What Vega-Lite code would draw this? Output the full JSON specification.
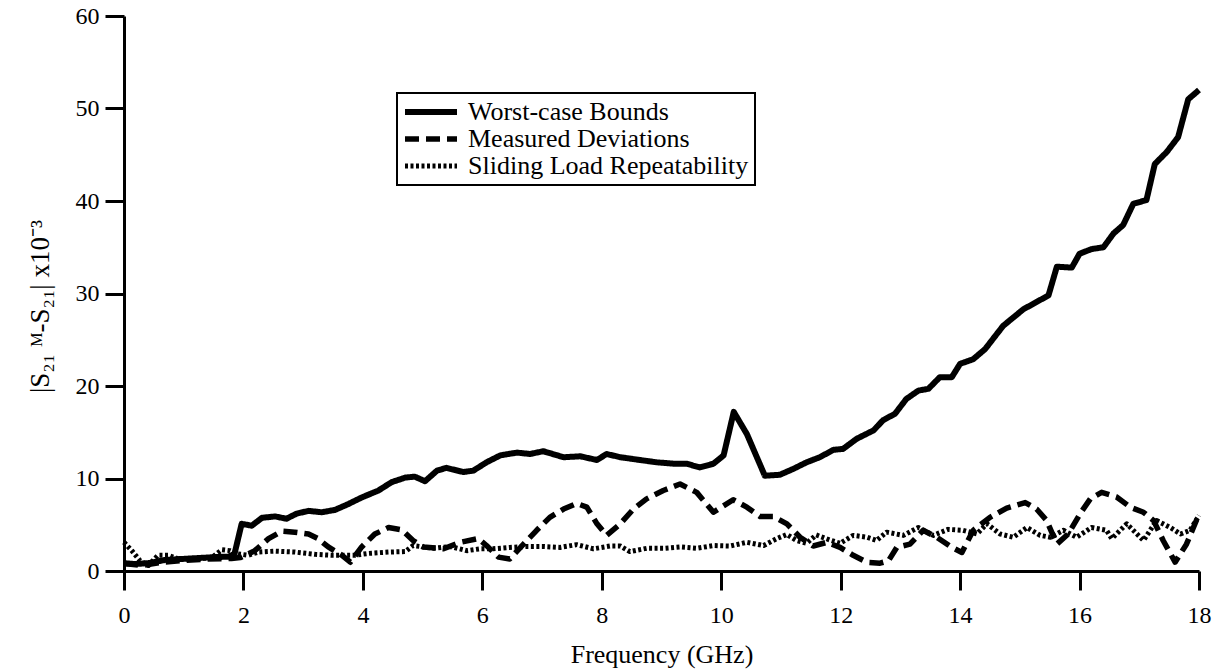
{
  "$schema": "https://vega.github.io/schema/vega-lite/v6.json",
  "autosize": {"type": "none"},
  "width": 1075,
  "height": 555,
  "padding": {"left": 124, "top": 16, "right": 21, "bottom": 99},
  "background": "white",
  "config": {"font": "Liberation Serif", "view": {"stroke": null}, "legend": {"strokeWidth": 2}},
  "data": {"values": [
    {"freq":0,"value":0.85,"series":"Worst-case Bounds"},{"freq":0.18,"value":0.75,"series":"Worst-case Bounds"},{"freq":0.41,"value":0.85,"series":"Worst-case Bounds"},{"freq":0.69,"value":1.2,"series":"Worst-case Bounds"},{"freq":0.97,"value":1.3,"series":"Worst-case Bounds"},{"freq":1.24,"value":1.4,"series":"Worst-case Bounds"},{"freq":1.52,"value":1.5,"series":"Worst-case Bounds"},{"freq":1.75,"value":1.55,"series":"Worst-case Bounds"},{"freq":1.85,"value":1.85,"series":"Worst-case Bounds"},{"freq":1.97,"value":5.1,"series":"Worst-case Bounds"},{"freq":2.14,"value":4.9,"series":"Worst-case Bounds"},{"freq":2.31,"value":5.75,"series":"Worst-case Bounds"},{"freq":2.53,"value":5.9,"series":"Worst-case Bounds"},{"freq":2.72,"value":5.65,"series":"Worst-case Bounds"},{"freq":2.89,"value":6.2,"series":"Worst-case Bounds"},{"freq":3.09,"value":6.5,"series":"Worst-case Bounds"},{"freq":3.31,"value":6.35,"series":"Worst-case Bounds"},{"freq":3.53,"value":6.6,"series":"Worst-case Bounds"},{"freq":3.76,"value":7.25,"series":"Worst-case Bounds"},{"freq":3.98,"value":7.95,"series":"Worst-case Bounds"},{"freq":4.26,"value":8.7,"series":"Worst-case Bounds"},{"freq":4.48,"value":9.6,"series":"Worst-case Bounds"},{"freq":4.71,"value":10.1,"series":"Worst-case Bounds"},{"freq":4.87,"value":10.2,"series":"Worst-case Bounds"},{"freq":5.04,"value":9.7,"series":"Worst-case Bounds"},{"freq":5.24,"value":10.85,"series":"Worst-case Bounds"},{"freq":5.4,"value":11.15,"series":"Worst-case Bounds"},{"freq":5.68,"value":10.7,"series":"Worst-case Bounds"},{"freq":5.85,"value":10.85,"series":"Worst-case Bounds"},{"freq":6.07,"value":11.75,"series":"Worst-case Bounds"},{"freq":6.3,"value":12.5,"series":"Worst-case Bounds"},{"freq":6.58,"value":12.8,"series":"Worst-case Bounds"},{"freq":6.8,"value":12.65,"series":"Worst-case Bounds"},{"freq":7.02,"value":12.95,"series":"Worst-case Bounds"},{"freq":7.36,"value":12.3,"series":"Worst-case Bounds"},{"freq":7.64,"value":12.4,"series":"Worst-case Bounds"},{"freq":7.92,"value":12.0,"series":"Worst-case Bounds"},{"freq":8.08,"value":12.65,"series":"Worst-case Bounds"},{"freq":8.31,"value":12.3,"series":"Worst-case Bounds"},{"freq":8.64,"value":12.0,"series":"Worst-case Bounds"},{"freq":8.92,"value":11.75,"series":"Worst-case Bounds"},{"freq":9.2,"value":11.6,"series":"Worst-case Bounds"},{"freq":9.42,"value":11.6,"series":"Worst-case Bounds"},{"freq":9.64,"value":11.2,"series":"Worst-case Bounds"},{"freq":9.87,"value":11.6,"series":"Worst-case Bounds"},{"freq":10.04,"value":12.5,"series":"Worst-case Bounds"},{"freq":10.21,"value":17.2,"series":"Worst-case Bounds"},{"freq":10.43,"value":14.8,"series":"Worst-case Bounds"},{"freq":10.73,"value":10.3,"series":"Worst-case Bounds"},{"freq":10.98,"value":10.4,"series":"Worst-case Bounds"},{"freq":11.21,"value":11.05,"series":"Worst-case Bounds"},{"freq":11.43,"value":11.75,"series":"Worst-case Bounds"},{"freq":11.65,"value":12.3,"series":"Worst-case Bounds"},{"freq":11.88,"value":13.1,"series":"Worst-case Bounds"},{"freq":12.04,"value":13.2,"series":"Worst-case Bounds"},{"freq":12.27,"value":14.3,"series":"Worst-case Bounds"},{"freq":12.55,"value":15.2,"series":"Worst-case Bounds"},{"freq":12.71,"value":16.3,"series":"Worst-case Bounds"},{"freq":12.91,"value":17.0,"series":"Worst-case Bounds"},{"freq":13.1,"value":18.6,"series":"Worst-case Bounds"},{"freq":13.3,"value":19.5,"series":"Worst-case Bounds"},{"freq":13.47,"value":19.7,"series":"Worst-case Bounds"},{"freq":13.66,"value":20.95,"series":"Worst-case Bounds"},{"freq":13.86,"value":20.95,"series":"Worst-case Bounds"},{"freq":14.0,"value":22.4,"series":"Worst-case Bounds"},{"freq":14.22,"value":22.9,"series":"Worst-case Bounds"},{"freq":14.42,"value":24.0,"series":"Worst-case Bounds"},{"freq":14.72,"value":26.5,"series":"Worst-case Bounds"},{"freq":15.06,"value":28.3,"series":"Worst-case Bounds"},{"freq":15.23,"value":28.9,"series":"Worst-case Bounds"},{"freq":15.48,"value":29.8,"series":"Worst-case Bounds"},{"freq":15.62,"value":32.9,"series":"Worst-case Bounds"},{"freq":15.87,"value":32.8,"series":"Worst-case Bounds"},{"freq":16.0,"value":34.3,"series":"Worst-case Bounds"},{"freq":16.2,"value":34.8,"series":"Worst-case Bounds"},{"freq":16.4,"value":35.0,"series":"Worst-case Bounds"},{"freq":16.57,"value":36.5,"series":"Worst-case Bounds"},{"freq":16.73,"value":37.4,"series":"Worst-case Bounds"},{"freq":16.9,"value":39.7,"series":"Worst-case Bounds"},{"freq":17.12,"value":40.1,"series":"Worst-case Bounds"},{"freq":17.26,"value":44.0,"series":"Worst-case Bounds"},{"freq":17.46,"value":45.3,"series":"Worst-case Bounds"},{"freq":17.65,"value":46.9,"series":"Worst-case Bounds"},{"freq":17.82,"value":51.0,"series":"Worst-case Bounds"},{"freq":18.0,"value":52.0,"series":"Worst-case Bounds"},

    {"freq":0,"value":0.8,"series":"Measured Deviations"},{"freq":0.3,"value":0.6,"series":"Measured Deviations"},{"freq":0.6,"value":0.9,"series":"Measured Deviations"},{"freq":1.0,"value":1.15,"series":"Measured Deviations"},{"freq":1.4,"value":1.3,"series":"Measured Deviations"},{"freq":1.8,"value":1.35,"series":"Measured Deviations"},{"freq":1.95,"value":1.45,"series":"Measured Deviations"},{"freq":2.19,"value":2.2,"series":"Measured Deviations"},{"freq":2.42,"value":3.5,"series":"Measured Deviations"},{"freq":2.64,"value":4.3,"series":"Measured Deviations"},{"freq":2.86,"value":4.2,"series":"Measured Deviations"},{"freq":3.09,"value":4.0,"series":"Measured Deviations"},{"freq":3.25,"value":3.5,"series":"Measured Deviations"},{"freq":3.42,"value":2.6,"series":"Measured Deviations"},{"freq":3.65,"value":1.7,"series":"Measured Deviations"},{"freq":3.79,"value":0.95,"series":"Measured Deviations"},{"freq":3.98,"value":2.6,"series":"Measured Deviations"},{"freq":4.2,"value":4.0,"series":"Measured Deviations"},{"freq":4.43,"value":4.7,"series":"Measured Deviations"},{"freq":4.65,"value":4.45,"series":"Measured Deviations"},{"freq":4.84,"value":3.3,"series":"Measured Deviations"},{"freq":5.01,"value":2.6,"series":"Measured Deviations"},{"freq":5.35,"value":2.4,"series":"Measured Deviations"},{"freq":5.63,"value":3.1,"series":"Measured Deviations"},{"freq":5.93,"value":3.5,"series":"Measured Deviations"},{"freq":6.07,"value":2.75,"series":"Measured Deviations"},{"freq":6.27,"value":1.5,"series":"Measured Deviations"},{"freq":6.46,"value":1.3,"series":"Measured Deviations"},{"freq":6.69,"value":2.9,"series":"Measured Deviations"},{"freq":6.91,"value":4.4,"series":"Measured Deviations"},{"freq":7.13,"value":5.8,"series":"Measured Deviations"},{"freq":7.36,"value":6.7,"series":"Measured Deviations"},{"freq":7.58,"value":7.3,"series":"Measured Deviations"},{"freq":7.75,"value":6.9,"series":"Measured Deviations"},{"freq":7.92,"value":5.1,"series":"Measured Deviations"},{"freq":8.08,"value":3.85,"series":"Measured Deviations"},{"freq":8.31,"value":5.1,"series":"Measured Deviations"},{"freq":8.53,"value":6.7,"series":"Measured Deviations"},{"freq":8.75,"value":7.8,"series":"Measured Deviations"},{"freq":9.03,"value":8.7,"series":"Measured Deviations"},{"freq":9.31,"value":9.4,"series":"Measured Deviations"},{"freq":9.59,"value":8.5,"series":"Measured Deviations"},{"freq":9.87,"value":6.35,"series":"Measured Deviations"},{"freq":10.2,"value":7.7,"series":"Measured Deviations"},{"freq":10.43,"value":6.9,"series":"Measured Deviations"},{"freq":10.65,"value":5.9,"series":"Measured Deviations"},{"freq":10.87,"value":5.9,"series":"Measured Deviations"},{"freq":11.1,"value":5.1,"series":"Measured Deviations"},{"freq":11.32,"value":3.65,"series":"Measured Deviations"},{"freq":11.54,"value":2.7,"series":"Measured Deviations"},{"freq":11.77,"value":3.1,"series":"Measured Deviations"},{"freq":11.99,"value":2.55,"series":"Measured Deviations"},{"freq":12.21,"value":1.7,"series":"Measured Deviations"},{"freq":12.44,"value":0.95,"series":"Measured Deviations"},{"freq":12.66,"value":0.85,"series":"Measured Deviations"},{"freq":12.8,"value":1.1,"series":"Measured Deviations"},{"freq":12.94,"value":2.55,"series":"Measured Deviations"},{"freq":13.16,"value":2.9,"series":"Measured Deviations"},{"freq":13.38,"value":4.4,"series":"Measured Deviations"},{"freq":13.61,"value":3.65,"series":"Measured Deviations"},{"freq":13.85,"value":2.6,"series":"Measured Deviations"},{"freq":14.03,"value":2.0,"series":"Measured Deviations"},{"freq":14.22,"value":4.4,"series":"Measured Deviations"},{"freq":14.5,"value":5.8,"series":"Measured Deviations"},{"freq":14.78,"value":6.8,"series":"Measured Deviations"},{"freq":15.09,"value":7.4,"series":"Measured Deviations"},{"freq":15.28,"value":6.7,"series":"Measured Deviations"},{"freq":15.45,"value":5.45,"series":"Measured Deviations"},{"freq":15.62,"value":2.9,"series":"Measured Deviations"},{"freq":15.81,"value":4.0,"series":"Measured Deviations"},{"freq":16.01,"value":6.2,"series":"Measured Deviations"},{"freq":16.18,"value":7.8,"series":"Measured Deviations"},{"freq":16.37,"value":8.5,"series":"Measured Deviations"},{"freq":16.62,"value":8.0,"series":"Measured Deviations"},{"freq":16.85,"value":6.9,"series":"Measured Deviations"},{"freq":17.07,"value":6.35,"series":"Measured Deviations"},{"freq":17.24,"value":5.45,"series":"Measured Deviations"},{"freq":17.4,"value":3.3,"series":"Measured Deviations"},{"freq":17.6,"value":0.95,"series":"Measured Deviations"},{"freq":17.79,"value":2.9,"series":"Measured Deviations"},{"freq":17.99,"value":6.0,"series":"Measured Deviations"},

    {"freq":0,"value":3.1,"series":"Sliding Load Repeatability"},{"freq":0.13,"value":2.2,"series":"Sliding Load Repeatability"},{"freq":0.27,"value":1.1,"series":"Sliding Load Repeatability"},{"freq":0.41,"value":0.6,"series":"Sliding Load Repeatability"},{"freq":0.57,"value":1.7,"series":"Sliding Load Repeatability"},{"freq":0.74,"value":1.7,"series":"Sliding Load Repeatability"},{"freq":0.91,"value":1.3,"series":"Sliding Load Repeatability"},{"freq":1.19,"value":1.3,"series":"Sliding Load Repeatability"},{"freq":1.47,"value":1.45,"series":"Sliding Load Repeatability"},{"freq":1.64,"value":2.3,"series":"Sliding Load Repeatability"},{"freq":1.77,"value":2.2,"series":"Sliding Load Repeatability"},{"freq":1.91,"value":1.85,"series":"Sliding Load Repeatability"},{"freq":2.08,"value":1.7,"series":"Sliding Load Repeatability"},{"freq":2.25,"value":2.05,"series":"Sliding Load Repeatability"},{"freq":2.53,"value":2.15,"series":"Sliding Load Repeatability"},{"freq":2.86,"value":2.05,"series":"Sliding Load Repeatability"},{"freq":3.2,"value":1.8,"series":"Sliding Load Repeatability"},{"freq":3.48,"value":1.7,"series":"Sliding Load Repeatability"},{"freq":3.7,"value":1.7,"series":"Sliding Load Repeatability"},{"freq":3.87,"value":1.7,"series":"Sliding Load Repeatability"},{"freq":4.09,"value":1.9,"series":"Sliding Load Repeatability"},{"freq":4.43,"value":2.05,"series":"Sliding Load Repeatability"},{"freq":4.71,"value":2.1,"series":"Sliding Load Repeatability"},{"freq":4.84,"value":2.75,"series":"Sliding Load Repeatability"},{"freq":4.96,"value":2.65,"series":"Sliding Load Repeatability"},{"freq":5.18,"value":2.45,"series":"Sliding Load Repeatability"},{"freq":5.46,"value":2.65,"series":"Sliding Load Repeatability"},{"freq":5.74,"value":2.2,"series":"Sliding Load Repeatability"},{"freq":5.96,"value":2.4,"series":"Sliding Load Repeatability"},{"freq":6.18,"value":2.4,"series":"Sliding Load Repeatability"},{"freq":6.46,"value":2.55,"series":"Sliding Load Repeatability"},{"freq":6.74,"value":2.65,"series":"Sliding Load Repeatability"},{"freq":7.02,"value":2.65,"series":"Sliding Load Repeatability"},{"freq":7.3,"value":2.55,"series":"Sliding Load Repeatability"},{"freq":7.58,"value":2.85,"series":"Sliding Load Repeatability"},{"freq":7.86,"value":2.4,"series":"Sliding Load Repeatability"},{"freq":8.14,"value":2.7,"series":"Sliding Load Repeatability"},{"freq":8.31,"value":2.7,"series":"Sliding Load Repeatability"},{"freq":8.47,"value":2.1,"series":"Sliding Load Repeatability"},{"freq":8.75,"value":2.45,"series":"Sliding Load Repeatability"},{"freq":9.03,"value":2.45,"series":"Sliding Load Repeatability"},{"freq":9.31,"value":2.6,"series":"Sliding Load Repeatability"},{"freq":9.59,"value":2.45,"series":"Sliding Load Repeatability"},{"freq":9.87,"value":2.75,"series":"Sliding Load Repeatability"},{"freq":10.15,"value":2.7,"series":"Sliding Load Repeatability"},{"freq":10.43,"value":3.1,"series":"Sliding Load Repeatability"},{"freq":10.71,"value":2.75,"series":"Sliding Load Repeatability"},{"freq":10.93,"value":3.5,"series":"Sliding Load Repeatability"},{"freq":11.1,"value":3.95,"series":"Sliding Load Repeatability"},{"freq":11.26,"value":3.3,"series":"Sliding Load Repeatability"},{"freq":11.43,"value":3.0,"series":"Sliding Load Repeatability"},{"freq":11.59,"value":3.9,"series":"Sliding Load Repeatability"},{"freq":11.82,"value":3.35,"series":"Sliding Load Repeatability"},{"freq":11.99,"value":3.0,"series":"Sliding Load Repeatability"},{"freq":12.21,"value":3.85,"series":"Sliding Load Repeatability"},{"freq":12.44,"value":3.65,"series":"Sliding Load Repeatability"},{"freq":12.6,"value":3.3,"series":"Sliding Load Repeatability"},{"freq":12.77,"value":4.2,"series":"Sliding Load Repeatability"},{"freq":13.05,"value":3.85,"series":"Sliding Load Repeatability"},{"freq":13.3,"value":4.7,"series":"Sliding Load Repeatability"},{"freq":13.55,"value":3.85,"series":"Sliding Load Repeatability"},{"freq":13.8,"value":4.5,"series":"Sliding Load Repeatability"},{"freq":14.05,"value":4.4,"series":"Sliding Load Repeatability"},{"freq":14.28,"value":4.0,"series":"Sliding Load Repeatability"},{"freq":14.45,"value":5.1,"series":"Sliding Load Repeatability"},{"freq":14.67,"value":4.0,"series":"Sliding Load Repeatability"},{"freq":14.89,"value":3.65,"series":"Sliding Load Repeatability"},{"freq":15.12,"value":4.7,"series":"Sliding Load Repeatability"},{"freq":15.34,"value":3.85,"series":"Sliding Load Repeatability"},{"freq":15.51,"value":3.65,"series":"Sliding Load Repeatability"},{"freq":15.73,"value":4.4,"series":"Sliding Load Repeatability"},{"freq":15.95,"value":3.65,"series":"Sliding Load Repeatability"},{"freq":16.2,"value":4.7,"series":"Sliding Load Repeatability"},{"freq":16.45,"value":4.4,"series":"Sliding Load Repeatability"},{"freq":16.54,"value":3.5,"series":"Sliding Load Repeatability"},{"freq":16.79,"value":5.1,"series":"Sliding Load Repeatability"},{"freq":17.07,"value":3.3,"series":"Sliding Load Repeatability"},{"freq":17.29,"value":5.45,"series":"Sliding Load Repeatability"},{"freq":17.52,"value":4.7,"series":"Sliding Load Repeatability"},{"freq":17.69,"value":4.0,"series":"Sliding Load Repeatability"},{"freq":17.85,"value":4.4,"series":"Sliding Load Repeatability"},{"freq":18.0,"value":6.0,"series":"Sliding Load Repeatability"}
  ]},
  "mark": {"type": "line", "color": "black", "strokeJoin": "round", "clip": false},
  "encoding": {
    "x": {
      "field": "freq", "type": "quantitative",
      "scale": {"domain": [0, 18], "nice": false, "zero": false},
      "axis": {
        "values": [0, 2, 4, 6, 8, 10, 12, 14, 16, 18],
        "title": "Frequency (GHz)",
        "grid": false,
        "domainColor": "black", "domainWidth": 3,
        "tickColor": "black", "tickWidth": 3, "tickSize": 19,
        "labelFontSize": 24, "labelColor": "black", "labelPadding": 13, "labelFlush": false,
        "titleFontSize": 26, "titleFontWeight": "normal", "titleColor": "black",
        "titleY": 91, "titleBaseline": "alphabetic"
      }
    },
    "y": {
      "field": "value", "type": "quantitative",
      "scale": {"domain": [0, 60], "nice": false},
      "axis": {
        "values": [0, 10, 20, 30, 40, 50, 60],
        "title": "|S₂₁ ᴹ-S₂₁| x10⁻³",
        "grid": false,
        "domainColor": "black", "domainWidth": 3,
        "tickColor": "black", "tickWidth": 3, "tickSize": 19,
        "labelFontSize": 24, "labelColor": "black", "labelPadding": 6,
        "titleFontSize": 27, "titleFontWeight": "normal", "titleColor": "black",
        "titleAngle": -90, "titleX": -84, "titleY": 290, "titleAlign": "center", "titleBaseline": "middle"
      }
    },
    "strokeWidth": {
      "field": "series", "type": "nominal",
      "scale": {
        "domain": ["Worst-case Bounds", "Measured Deviations", "Sliding Load Repeatability"],
        "range": [6, 5, 4.5]
      },
      "legend": null
    },
    "strokeDash": {
      "field": "series", "type": "nominal",
      "scale": {
        "domain": ["Worst-case Bounds", "Measured Deviations", "Sliding Load Repeatability"],
        "range": [[1, 0], [14, 7], [3, 2.5]]
      },
      "legend": {
        "orient": "none", "legendX": 273, "legendY": 77,
        "title": null,
        "symbolType": "M-4,0H4", "symbolSize": 169, "symbolStrokeWidth": 5, "symbolStrokeColor": "black",
        "symbolOffset": 15, "labelOffset": 24,
        "labelFontSize": 26, "labelColor": "black", "labelLimit": 0,
        "rowPadding": 1,
        "strokeColor": "black", "padding": 6
      }
    }
  }
}
